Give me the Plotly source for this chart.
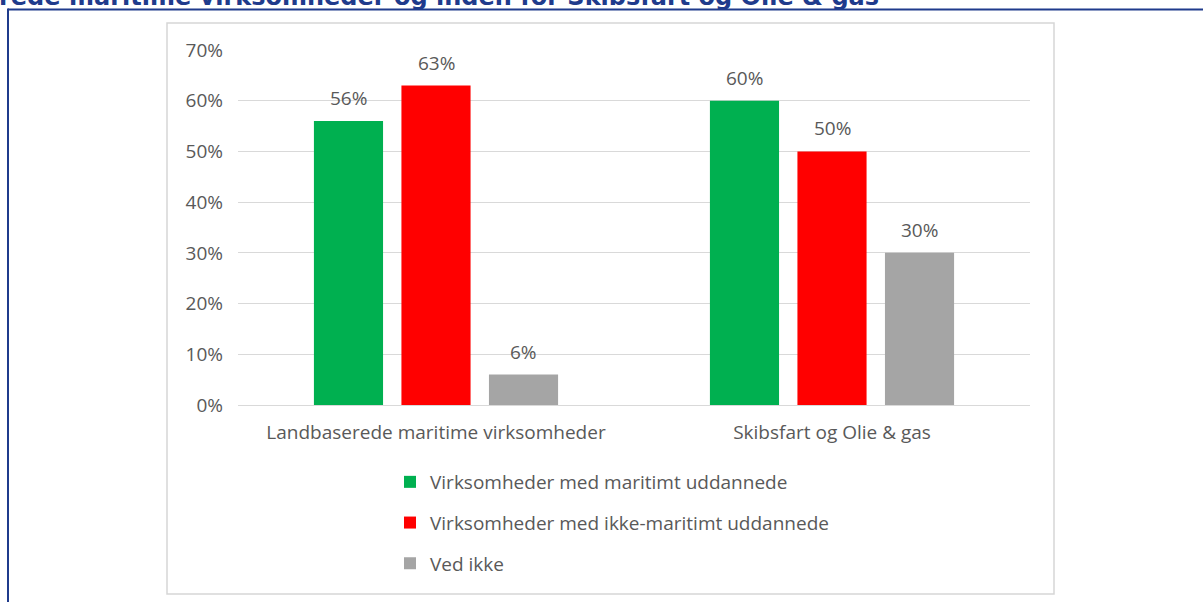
import plotly.graph_objects as go

# Survey shares (percent) per company type
categories = ["Landbaserede maritime virksomheder", "Skibsfart og Olie & gas"]
series_names = [
    "Virksomheder med maritimt uddannede",
    "Virksomheder med ikke-maritimt uddannede",
    "Ved ikke",
]
maritimt = [56, 60]
ikke_maritimt = [63, 50]
ved_ikke = [6, 30]
tick_values = [0, 10, 20, 30, 40, 50, 60, 70]

title_text = "rede maritime virksomheder og inden for Skibsfart og Olie & gas"

colors = ["#00B050", "#FF0000", "#A5A5A5"]
text_gray = "#595959"
grid_gray = "#D9D9D9"
navy = "#1F3B8C"
font_family = "Open Sans"
font_size = 19

W, H = 1203, 602
M_L, M_R, M_T, M_B = 238, 173, 50, 197
BARGAP, BARGROUPGAP = 0.337, 0.21


def px_x(x):
    return (x - M_L) / (W - M_L - M_R)


def px_y(y):
    return (H - M_B - y) / (H - M_T - M_B)


fig = go.Figure()
for name, vals, col in zip(series_names, [maritimt, ikke_maritimt, ved_ikke], colors):
    fig.add_trace(go.Bar(
        x=categories, y=vals, name=name, marker_color=col,
        marker_line_width=0, legendgroup=name,
    ))

# value labels above each bar
plot_w = W - M_L - M_R
slot = plot_w / len(categories) * (1 - BARGAP) / len(series_names)
annotations = []
for i, vals in enumerate([maritimt, ikke_maritimt, ved_ikke]):
    for cat, v in zip(categories, vals):
        annotations.append(dict(
            x=cat, y=v, xref="x", yref="y", text=f"{v}%", showarrow=False,
            xshift=(i - 1) * slot, yshift=23, yanchor="middle",
            font=dict(family=font_family, size=font_size, color=text_gray),
        ))

annotations.append(dict(
    x=px_x(-3), y=px_y(13), xref="paper", yref="paper", text=f"<b>{title_text}</b>",
    showarrow=False, xanchor="left", yanchor="bottom",
    font=dict(family="DejaVu Sans", size=24, color=navy),
))

shapes = [
    # chart box
    dict(type="rect", xref="paper", yref="paper",
         x0=px_x(167), x1=px_x(1054), y0=px_y(594), y1=px_y(23),
         line=dict(color="#D6D6D6", width=1.5), layer="below"),
    # page frame
    dict(type="line", xref="paper", yref="paper",
         x0=px_x(8), x1=px_x(W + 2), y0=px_y(9.5), y1=px_y(9.5),
         line=dict(color=navy, width=2)),
    dict(type="line", xref="paper", yref="paper",
         x0=px_x(8), x1=px_x(8), y0=px_y(8.5), y1=px_y(H + 2),
         line=dict(color=navy, width=2)),
]

fig.update_layout(
    width=W, height=H,
    margin=dict(l=M_L, r=M_R, t=M_T, b=M_B),
    paper_bgcolor="white", plot_bgcolor="white",
    barmode="group", bargap=BARGAP, bargroupgap=BARGROUPGAP,
    font=dict(family=font_family, size=font_size, color=text_gray),
    showlegend=True,
    legend=dict(
        x=px_x(390), y=px_y(463), xanchor="left", yanchor="top",
        orientation="v", traceorder="grouped", tracegroupgap=13,
        font=dict(family=font_family, size=font_size, color=text_gray),
        bgcolor="rgba(0,0,0,0)", itemclick=False,
    ),
    annotations=annotations,
    shapes=shapes,
)
fig.update_yaxes(
    range=[0, 70], tickvals=tick_values, ticktext=[f"{v}%" for v in tick_values],
    showgrid=True, gridcolor=grid_gray, gridwidth=1,
    zeroline=True, zerolinecolor=grid_gray, zerolinewidth=1,
    showline=False, ticks="", ticklabelstandoff=14,
    tickfont=dict(family=font_family, size=font_size, color=text_gray),
)
fig.update_xaxes(
    showline=False, ticks="", showgrid=False, ticklabelstandoff=14,
    tickfont=dict(family=font_family, size=font_size, color=text_gray),
)

fig.write_html("out.html")
